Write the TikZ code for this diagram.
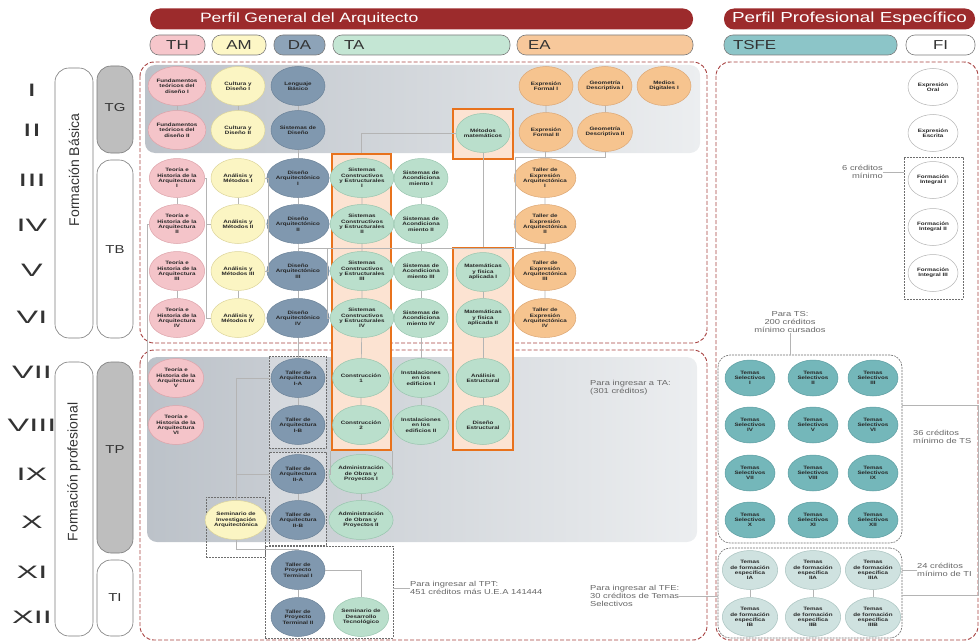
\documentclass[tikz,border=0pt]{standalone}
\usepackage{fontspec}
\setmainfont[FakeStretch=1.3]{Liberation Sans}
\newfontfamily\romfont[FakeStretch=1.8]{Liberation Sans}
\newfontfamily\plainfont{Liberation Sans}
\usetikzlibrary{shapes.geometric}
\definecolor{hdred}{HTML}{9C2B2C}
\definecolor{framered}{HTML}{A6403F}
\definecolor{pillline}{HTML}{7A7A7A}
\definecolor{semgray}{HTML}{333333}
\definecolor{notegray}{HTML}{666666}
\definecolor{linkgray}{HTML}{B4B4B4}
\definecolor{dboxline}{HTML}{6E6E6E}
\definecolor{bgdark}{HTML}{BCC2C9}
\definecolor{bglight}{HTML}{ECEEF0}
\definecolor{tggray}{HTML}{BEBEBE}
\definecolor{boxorange}{HTML}{E8721C}
\definecolor{boxfill}{HTML}{FCE3D2}
\definecolor{coursetext}{HTML}{262626}
\definecolor{thfill}{HTML}{F4C4C9}
\definecolor{thline}{HTML}{DCA2A9}
\definecolor{amfill}{HTML}{FBF5C3}
\definecolor{amline}{HTML}{DCD49A}
\definecolor{dafill}{HTML}{8098AF}
\definecolor{daline}{HTML}{6B8298}
\definecolor{tafill}{HTML}{BADFCC}
\definecolor{taline}{HTML}{98C5AE}
\definecolor{eafill}{HTML}{F6C48F}
\definecolor{ealine}{HTML}{DCA775}
\definecolor{tsfill}{HTML}{74B7BA}
\definecolor{tsline}{HTML}{5D9DA1}
\definecolor{tifill}{HTML}{CFE2E0}
\definecolor{tiline}{HTML}{A8C2BF}
\definecolor{thpill}{HTML}{F6C6CB}
\definecolor{ampill}{HTML}{FDF7C6}
\definecolor{dapill}{HTML}{8DA3B8}
\definecolor{tapill}{HTML}{C4E6D4}
\definecolor{eapill}{HTML}{F7C89B}
\definecolor{tsfepill}{HTML}{8CC5C8}
\begin{document}
\begin{tikzpicture}[x=1pt,y=1pt]
\tikzstyle{every node}+=[inner sep=0pt]
\tikzstyle{sem}=[font=\romfont\fontsize{18}{18}\selectfont, text=semgray]
\tikzstyle{block}=[draw=pillline, line width=0.6pt, rounded corners=14pt, minimum width=36]
\tikzstyle{blocklabel}=[font=\fontsize{11.5}{12}\selectfont, text=semgray]
\tikzstyle{sidelabel}=[rotate=90, font=\plainfont\fontsize{14}{14}\selectfont, text=semgray]
\tikzstyle{hdbar}=[fill=hdred, text=white, rounded corners=10pt, minimum height=21, font=\fontsize{13.5}{14}\selectfont]
\tikzstyle{pill}=[draw=pillline, line width=0.6pt, rounded corners=9pt, minimum height=20, font=\fontsize{13}{13}\selectfont, text=semgray]
\tikzstyle{frame}=[draw=framered, line width=0.9pt, dash pattern=on 4pt off 2pt, rounded corners=14pt]
\tikzstyle{obox}=[draw=boxorange, line width=2.8pt, fill=boxfill]
\tikzstyle{dbox}=[draw=dboxline, line width=0.6pt, dash pattern=on 2pt off 1pt]
\tikzstyle{course}=[ellipse, draw, line width=0.5pt, minimum width=54, minimum height=39, align=center, font=\fontsize{4.8}{5.3}\selectfont\bfseries, text=coursetext]
\tikzstyle{thcourse}=[course, fill=thfill, draw=thline]
\tikzstyle{amcourse}=[course, fill=amfill, draw=amline]
\tikzstyle{dacourse}=[course, fill=dafill, draw=daline]
\tikzstyle{tacourse}=[course, fill=tafill, draw=taline]
\tikzstyle{eacourse}=[course, fill=eafill, draw=ealine]
\tikzstyle{tscourse}=[course, fill=tsfill, draw=tsline, minimum width=50, minimum height=36]
\tikzstyle{ticourse}=[course, fill=tifill, draw=tiline, minimum width=52, minimum height=39]
\tikzstyle{ficourse}=[course, fill=white, draw=linkgray, minimum width=50, minimum height=37]
\tikzstyle{link}=[draw=linkgray, line width=0.7pt]
\tikzstyle{note}=[font=\fontsize{7.2}{8.4}\selectfont, text=notegray, align=left]
\useasboundingbox (0,0) rectangle (980,-642);

% semestres
\node[sem] (s1) at (32,-90) {I};
\node[sem] (s2) at (32,-130) {II};
\node[sem] (s3) at (32,-180) {III};
\node[sem] (s4) at (32,-225) {IV};
\node[sem] (s5) at (32,-270) {V};
\node[sem] (s6) at (32,-317) {VI};
\node[sem] (s7) at (32,-372) {VII};
\node[sem] (s8) at (32,-425) {VIII};
\node[sem] (s9) at (32,-474) {IX};
\node[sem] (s10) at (32,-522) {X};
\node[sem] (s11) at (32,-572) {XI};
\node[sem] (s12) at (32,-617) {XII};

% etapas
\node[block, minimum width=38, minimum height=270] (fbas) at (74,-203) {};
\node[sidelabel] (fbaslab) at (74,-170) {Formación Básica};
\node[block, minimum width=38, minimum height=274] (fpro) at (74,-499) {};
\node[sidelabel] (fprolab) at (74,-472) {Formación profesional};
\node[block, fill=tggray, minimum height=87] (tg) at (115,-109.5) {};
\node[blocklabel] (tglab) at (115,-108) {TG};
\node[block, minimum height=178] (tb) at (115,-249) {};
\node[blocklabel] (tblab) at (115,-250) {TB};
\node[block, fill=tggray, minimum height=191] (tp) at (115,-457.5) {};
\node[blocklabel] (tplab) at (115,-450) {TP};
\node[block, minimum height=76] (ti) at (115,-598) {};
\node[blocklabel] (tilab) at (115,-598) {TI};

% encabezados
\node[hdbar, minimum width=543, text width=443, align=left] (pga) at (421.5,-19) {Perfil General del Arquitecto};
\node[hdbar, minimum width=251, font=\fontsize{14.5}{15}\selectfont] (ppe) at (849.5,-19) {Perfil Profesional Específico};
\node[pill, fill=thpill, minimum width=55] (thp) at (177.5,-45) {TH};
\node[pill, fill=ampill, minimum width=54] (amp) at (239,-45) {AM};
\node[pill, fill=dapill, minimum width=51] (dap) at (299.5,-45) {DA};
\node[pill, fill=tapill, minimum width=177, text width=155, align=left] (tap) at (421.5,-45) {TA};
\node[pill, fill=eapill, minimum width=176, text width=154, align=left] (eap) at (605,-45) {EA};
\node[pill, fill=tsfepill, minimum width=173, text width=155, align=left] (tsfep) at (810.5,-45) {TSFE};
\node[pill, fill=white, minimum width=69] (fip) at (940.5,-45) {FI};

% fondos y marcos
\shade[left color=bgdark, right color=bglight, rounded corners=10pt] (145,-65) rectangle (700,-153);
\shade[left color=bgdark, right color=bglight, rounded corners=10pt] (147,-357) rectangle (697,-542);
\draw[frame] (140,-62) rectangle (707,-343);
\draw[frame] (140,-350) rectangle (707,-640);
\draw[frame] (716,-62) rectangle (978,-640);

\node[obox, minimum width=60, minimum height=50] (metbox) at (483,-134) {};
\node[obox, minimum width=59, minimum height=296] (scbox) at (361.5,-302) {};
\node[obox, minimum width=60, minimum height=202] (matbox) at (483,-349) {};
\node[dbox, fill=white, fill opacity=0.25, minimum width=57, minimum height=92] (tal1box) at (297.5,-402) {};
\node[dbox, fill=white, fill opacity=0.25, minimum width=57, minimum height=93] (tal2box) at (297.5,-498.5) {};
\node[dbox, minimum width=59, minimum height=60] (semibox) at (235.5,-527) {};
\node[dbox, minimum width=128, minimum height=92] (tptbox) at (329,-592) {};
\node[dbox, minimum width=59, minimum height=142] (fibox) at (933.5,-228) {};
\node[dbox, rounded corners=12pt, minimum width=184, minimum height=188] (tsbox) at (810,-449) {};
\node[dbox, rounded corners=12pt, minimum width=184, minimum height=90] (tibox) at (810,-593) {};

% tronco general
\node[thcourse] (fund1) at (177,-86) {Fundamentos\\teóricos del\\diseño I};
\node[thcourse] (fund2) at (177,-130) {Fundamentos\\teóricos del\\diseño II};
\node[amcourse] (cult1) at (238,-86) {Cultura y\\Diseño I};
\node[amcourse] (cult2) at (238,-130) {Cultura y\\Diseño II};
\node[dacourse] (leng) at (298,-86) {Lenguaje\\Básico};
\node[dacourse] (sisdis) at (298,-130) {Sistemas de\\Diseño};
\node[tacourse] (metmat) at (483,-133) {Métodos\\matemáticos};
\node[eacourse] (expf1) at (546,-86) {Expresión\\Formal I};
\node[eacourse] (expf2) at (546,-132) {Expresión\\Formal II};
\node[eacourse] (geo1) at (605,-86) {Geometría\\Descriptiva I};
\node[eacourse] (geo2) at (605,-132) {Geometría\\Descriptiva II};
\node[eacourse] (med1) at (664,-86) {Medios\\Digitales I};

% tronco basico
\node[thcourse] (teo1) at (177,-178) {Teoría e\\Historia de la\\Arquitectura\\I};
\node[thcourse] (teo2) at (177,-224) {Teoría e\\Historia de la\\Arquitectura\\II};
\node[thcourse] (teo3) at (177,-271) {Teoría e\\Historia de la\\Arquitectura\\III};
\node[thcourse] (teo4) at (177,-318) {Teoría e\\Historia de la\\Arquitectura\\IV};
\node[amcourse] (anl1) at (238,-178) {Análisis y\\Métodos I};
\node[amcourse] (anl2) at (238,-224) {Análisis y\\Métodos II};
\node[amcourse] (anl3) at (238,-271) {Análisis y\\Métodos III};
\node[amcourse] (anl4) at (238,-318) {Análisis y\\Métodos IV};
\node[dacourse] (dis1) at (298,-178) {Diseño\\Arquitectónico\\I};
\node[dacourse] (dis2) at (298,-224) {Diseño\\Arquitectónico\\II};
\node[dacourse] (dis3) at (298,-271) {Diseño\\Arquitectónico\\III};
\node[dacourse] (dis4) at (298,-318) {Diseño\\Arquitectónico\\IV};
\node[tacourse] (sc1) at (362,-178) {Sistemas\\Constructivos\\y Estructurales\\I};
\node[tacourse] (sc2) at (362,-224) {Sistemas\\Constructivos\\y Estructurales\\II};
\node[tacourse] (sc3) at (362,-271) {Sistemas\\Constructivos\\y Estructurales\\III};
\node[tacourse] (sc4) at (362,-318) {Sistemas\\Constructivos\\y Estructurales\\IV};
\node[tacourse] (aco1) at (421,-178) {Sistemas de\\Acondiciona\\miento I};
\node[tacourse] (aco2) at (421,-224) {Sistemas de\\Acondiciona\\miento II};
\node[tacourse] (aco3) at (421,-271) {Sistemas de\\Acondiciona\\miento III};
\node[tacourse] (aco4) at (421,-318) {Sistemas de\\Acondiciona\\miento IV};
\node[tacourse] (mat1) at (483,-272) {Matemáticas\\y física\\aplicada I};
\node[tacourse] (mat2) at (483,-318) {Matemáticas\\y física\\aplicada II};
\node[eacourse] (tex1) at (545,-178) {Taller de\\Expresión\\Arquitectónica\\I};
\node[eacourse] (tex2) at (545,-224) {Taller de\\Expresión\\Arquitectónica\\II};
\node[eacourse] (tex3) at (545,-271) {Taller de\\Expresión\\Arquitectónica\\III};
\node[eacourse] (tex4) at (545,-318) {Taller de\\Expresión\\Arquitectónica\\IV};

% tronco profesional
\node[thcourse] (teo5) at (176,-378) {Teoría e\\Historia de la\\Arquitectura\\V};
\node[thcourse] (teo6) at (176,-425) {Teoría e\\Historia de la\\Arquitectura\\VI};
\node[dacourse] (tal1a) at (298,-378) {Taller de\\Arquitectura\\I-A};
\node[dacourse] (tal1b) at (298,-425) {Taller de\\Arquitectura\\I-B};
\node[dacourse] (tal2a) at (298,-474) {Taller de\\Arquitectura\\II-A};
\node[dacourse] (tal2b) at (298,-520) {Taller de\\Arquitectura\\II-B};
\node[amcourse] (semi) at (236,-520) {Seminario de\\Investigación\\Arquitectónica};
\node[tacourse] (cons1) at (361,-378) {Construcción\\1};
\node[tacourse] (cons2) at (361,-425) {Construcción\\2};
\node[tacourse] (inst1) at (421,-378) {Instalaciones\\en los\\edificios I};
\node[tacourse] (inst2) at (421,-425) {Instalaciones\\en los\\edificios II};
\node[tacourse] (anest) at (483,-378) {Análisis\\Estructural};
\node[tacourse] (diest) at (483,-425) {Diseño\\Estructural};
\node[tacourse] (adm1) at (361,-474) {Administración\\de Obras y\\Proyectos I};
\node[tacourse] (adm2) at (361,-520) {Administración\\de Obras y\\Proyectos II};
\node[dacourse] (tpt1) at (298,-570) {Taller de\\Proyecto\\Terminal I};
\node[dacourse] (tpt2) at (298,-617) {Taller de\\Proyecto\\Terminal II};
\node[tacourse] (sdt) at (361,-617) {Seminario de\\Desarrollo\\Tecnológico};

% perfil profesional
\node[ficourse] (eor) at (933,-87) {Expresión\\Oral};
\node[ficourse] (eesc) at (933,-133) {Expresión\\Escrita};
\node[ficourse] (fi1) at (933,-180) {Formación\\Integral I};
\node[ficourse] (fi2) at (933,-227) {Formación\\Integral II};
\node[ficourse] (fi3) at (933,-273) {Formación\\Integral III};
\node[tscourse] (ts1) at (750,-378) {Temas\\Selectivos\\I};
\node[tscourse] (ts2) at (813,-378) {Temas\\Selectivos\\II};
\node[tscourse] (ts3) at (873,-378) {Temas\\Selectivos\\III};
\node[tscourse] (ts4) at (750,-425) {Temas\\Selectivos\\IV};
\node[tscourse] (ts5) at (813,-425) {Temas\\Selectivos\\V};
\node[tscourse] (ts6) at (873,-425) {Temas\\Selectivos\\VI};
\node[tscourse] (ts7) at (750,-473) {Temas\\Selectivos\\VII};
\node[tscourse] (ts8) at (813,-473) {Temas\\Selectivos\\VIII};
\node[tscourse] (ts9) at (873,-473) {Temas\\Selectivos\\IX};
\node[tscourse] (ts10) at (750,-520) {Temas\\Selectivos\\X};
\node[tscourse] (ts11) at (813,-520) {Temas\\Selectivos\\XI};
\node[tscourse] (ts12) at (873,-520) {Temas\\Selectivos\\XII};
\node[ticourse] (tfe1a) at (750,-570) {Temas\\de formación\\específica\\IA};
\node[ticourse] (tfe2a) at (813,-570) {Temas\\de formación\\específica\\IIA};
\node[ticourse] (tfe3a) at (873,-570) {Temas\\de formación\\específica\\IIIA};
\node[ticourse] (tfe1b) at (750,-617) {Temas\\de formación\\específica\\IB};
\node[ticourse] (tfe2b) at (813,-617) {Temas\\de formación\\específica\\IIB};
\node[ticourse] (tfe3b) at (873,-617) {Temas\\de formación\\específica\\IIIB};

% notas
\node[note, anchor=north west] (tanote) at (590,-380) {Para ingresar a TA:\\(301 créditos)};
\node[note, anchor=west] (tptnote) at (410,-588) {Para ingresar al TPT:\\451 créditos más U.E.A 141444};
\node[note, anchor=west] (tfenote) at (590,-596) {Para ingresar al TFE:\\30 créditos de Temas\\Selectivos};
\node[note, align=center] (tsnote) at (790,-322) {Para TS:\\200 créditos\\mínimo cursados};
\node[note, align=right, anchor=east] (cred6) at (883,-172) {6 créditos\\mínimo};
\node[note, anchor=west] (cred36) at (913,-437) {36 créditos\\mínimo de TS};
\node[note, anchor=west] (cred24) at (917,-570) {24 créditos\\mínimo de TI};

% seriacion
\coordinate (barL) at (298,-248);
\coordinate (barR) at (515,-248);
\coordinate (dabr) at (327,-248);
\coordinate (eajoin) at (515,-157);
\coordinate (amtop) at (268,-178);
\coordinate (ambot) at (268,-271);
\coordinate (thtop) at (206,-178);
\coordinate (thbot) at (206,-318);
\coordinate (lefttop) at (147,-224);
\coordinate (leftbot) at (147,-425);
\coordinate (semijoin) at (236,-549);
\coordinate (tsout) at (978,-405);
\coordinate (tiout) at (978,-595);
\draw[link] (fund1) -- (fund2);
\draw[link] (cult1) -- (cult2);
\draw[link] (leng) -- (sisdis) -- (dis1) -- (dis2);
\draw[link] (dis2) -- (barL) -- (dis3);
\draw[link] (dis3) -- (dis4);
\draw[link] (expf1) -- (expf2) -- (tex1) -- (tex2) -- (tex3) -- (tex4);
\draw[link] (geo1) -- (geo2);
\draw[link] (geo2) |- (eajoin) -- (barR);
\draw[link] (barL) -- (tex2.south |- barL) -- (tex2);
\draw[link] (tex2) -| (barR);
\draw[link] (metmat) -| (scbox.north);
\draw[link] (metmat) -- (matbox.north);
\draw[link] (dabr) |- (dis4);
\draw[link] (anl1) -- (amtop) -- (ambot) -- (anl3);
\draw[link] (dis2 -| amtop) -- (dis2);
\draw[link] (teo1) -- (thtop) -- (thbot) -- (anl4);
\draw[link] (anl2 -| thtop) -- (anl2);
\draw[link] (teo2) -- (lefttop) -- (leftbot) -- (teo6);
\draw[link] (teo5 -| lefttop) -- (teo5);
\draw[link] (teo1) -- (teo2);
\draw[link] (teo3) -- (teo4);
\draw[link] (anl1) -- (anl2);
\draw[link] (anl3) -- (anl4);
\draw[link] (sc1) -- (sc2) -- (sc3) -- (sc4) -- (cons1) -- (cons2);
\draw[link] (aco1) -- (aco2) -- (aco3) -- (aco4) -- (inst1) -- (inst2);
\draw[link] (mat1) -- (mat2) -- (anest) -- (diest);
\draw[link] (dis4) -- (tal1a) -- (tal1b);
\draw[link] (tal2a) -- (tal2b);
\draw[link] (tal1a) -- (tal1a -| semi) -- (semi);
\draw[link] (tal2a) -- (tal2a -| semi);
\draw[link] (semi) -- (semijoin) -| (tpt1);
\draw[link] (tpt1) -- (tpt2);
\draw[link] (tpt1) -| (sdt);
\draw[link] (scbox.south west) -- (scbox.south west |- adm1) -- (adm1);
\draw[link] (scbox.south east) -- (scbox.south east |- adm1) -- (adm1);
\draw[link] (adm1) -- (adm2);
\draw[link] (tptbox.east |- tptnote) -- (tptnote);
\draw[link] (tfenote) -- (tfenote -| tibox.west);
\draw[link] (tsnote) -- (tsnote |- tsbox.north);
\draw[link] (cred6) -- (cred6 -| fibox.west);
\draw[link] (tsout -| tsbox.east) -- (tsout) -- (tiout) -- (tiout -| tibox.east);
\draw[link] (cred24 -| tibox.east) -- (cred24);
\draw[link] (tfe1a) -- (tfe1b);
\draw[link] (tfe2a) -- (tfe2b);
\draw[link] (tfe3a) -- (tfe3b);
\end{tikzpicture}
\end{document}
